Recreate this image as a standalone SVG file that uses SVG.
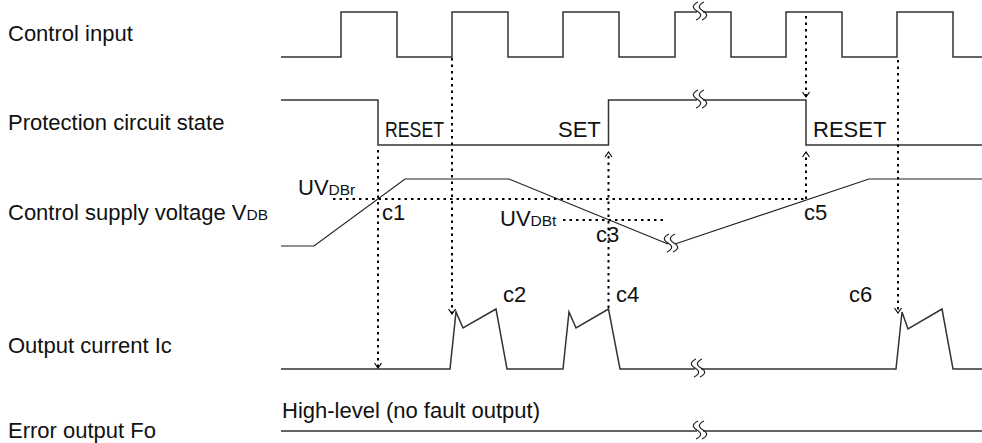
<svg xmlns="http://www.w3.org/2000/svg" width="982" height="443" viewBox="0 0 982 443">
  <style>
    text { font-family: "Liberation Sans", Arial, sans-serif; font-size: 22px; fill: #111; }
    .sub { font-size: 15.5px; }
    .sig { fill: none; stroke: #333; stroke-width: 1.5; stroke-linejoin: miter; }
    .thin { fill: none; stroke: #222; stroke-width: 1.2; }
    .brk { fill: none; stroke: #222; stroke-width: 1.2; }
    .dot { fill: none; stroke: #000; stroke-width: 2; stroke-dasharray: 2.5 4; }
  </style>
  <defs>
    <marker id="arr" markerUnits="userSpaceOnUse" markerWidth="12" markerHeight="12" viewBox="-8 -6 10 12" refX="0" refY="0" orient="auto">
      <path d="M-5,-3.5 L0,0 L-5,3.5" fill="none" stroke="#000" stroke-width="1.1"/>
    </marker>
    <path id="tilde" d="M1,-9 c-6,3 -6,6 -1,9 c5,3 5,6 -1,9"/>
  </defs>

  <rect width="982" height="443" fill="#fff"/>

  <g id="labels">
    <text x="8" y="41">Control input</text>
    <text x="8" y="130">Protection circuit state</text>
    <text x="8" y="220">Control supply voltage V<tspan class="sub">DB</tspan></text>
    <text x="8" y="353">Output current Ic</text>
    <text x="8" y="438">Error output Fo</text>
  </g>

  <g id="control-input">
    <path class="sig" d="M281,57 H341 V12 H397 V57 H452 V12 H508 V57 H563 V12 H619 V57 H675 V12 H697 M703,12 H731 V57 H786 V12 H842 V57 H897 V12 H953 V57 H982"/>
    <use href="#tilde" x="697" y="11" class="brk"/>
    <use href="#tilde" x="703" y="11" class="brk"/>
  </g>

  <g id="protection-state">
    <path class="sig" d="M281,100 H378 V145 H608.5 V100 H697 M703,100 H806 V145 H982"/>
    <use href="#tilde" x="697" y="99" class="brk"/>
    <use href="#tilde" x="703" y="99" class="brk"/>
    <text x="385" y="137" textLength="59" lengthAdjust="spacingAndGlyphs">RESET</text>
    <text x="558" y="137">SET</text>
    <text x="813" y="137">RESET</text>
  </g>

  <g id="supply-voltage">
    <path class="thin" d="M281,246 H314 L405,179 H509 L668,244 M675,244 L869,179 H982"/>
    <use href="#tilde" x="668" y="243" class="brk"/>
    <use href="#tilde" x="674" y="243" class="brk"/>
    <text x="298" y="195">UV<tspan class="sub">DBr</tspan></text>
    <text x="500" y="226">UV<tspan class="sub">DBt</tspan></text>
    <text x="382" y="220">c1</text>
    <text x="596" y="242">c3</text>
    <text x="804" y="220">c5</text>
  </g>

  <g id="output-current">
    <path class="sig" d="M281,369 H450 L456,312 L463,328 L496,309 L507,369 H563 L569,312 L576,328 L608.5,309 L620,369 H695 M701,369 H896 L902,312 L908,329 L942,309 L953,369 H982"/>
    <use href="#tilde" x="695" y="368" class="brk"/>
    <use href="#tilde" x="701" y="368" class="brk"/>
    <text x="503" y="302">c2</text>
    <text x="616" y="302">c4</text>
    <text x="849" y="302">c6</text>
  </g>

  <g id="error-output">
    <path class="sig" d="M281,431 H697 M703,431 H982"/>
    <use href="#tilde" x="697" y="430" class="brk"/>
    <use href="#tilde" x="703" y="430" class="brk"/>
    <text x="282" y="418">High-level (no fault output)</text>
  </g>

  <g id="connectors">
    <path class="dot" d="M333,199 H806"/>
    <path class="dot" d="M563,220 H663"/>
    <path class="dot" d="M378,150 V368" marker-end="url(#arr)"/>
    <path class="dot" d="M452,58 V314" marker-end="url(#arr)"/>
    <path class="dot" d="M608.5,308 V152" marker-end="url(#arr)"/>
    <path class="dot" d="M806,16 V97" marker-end="url(#arr)"/>
    <path class="dot" d="M806,199 V152" marker-end="url(#arr)"/>
    <path class="dot" d="M898,60 V313" marker-end="url(#arr)"/>
  </g>
</svg>
